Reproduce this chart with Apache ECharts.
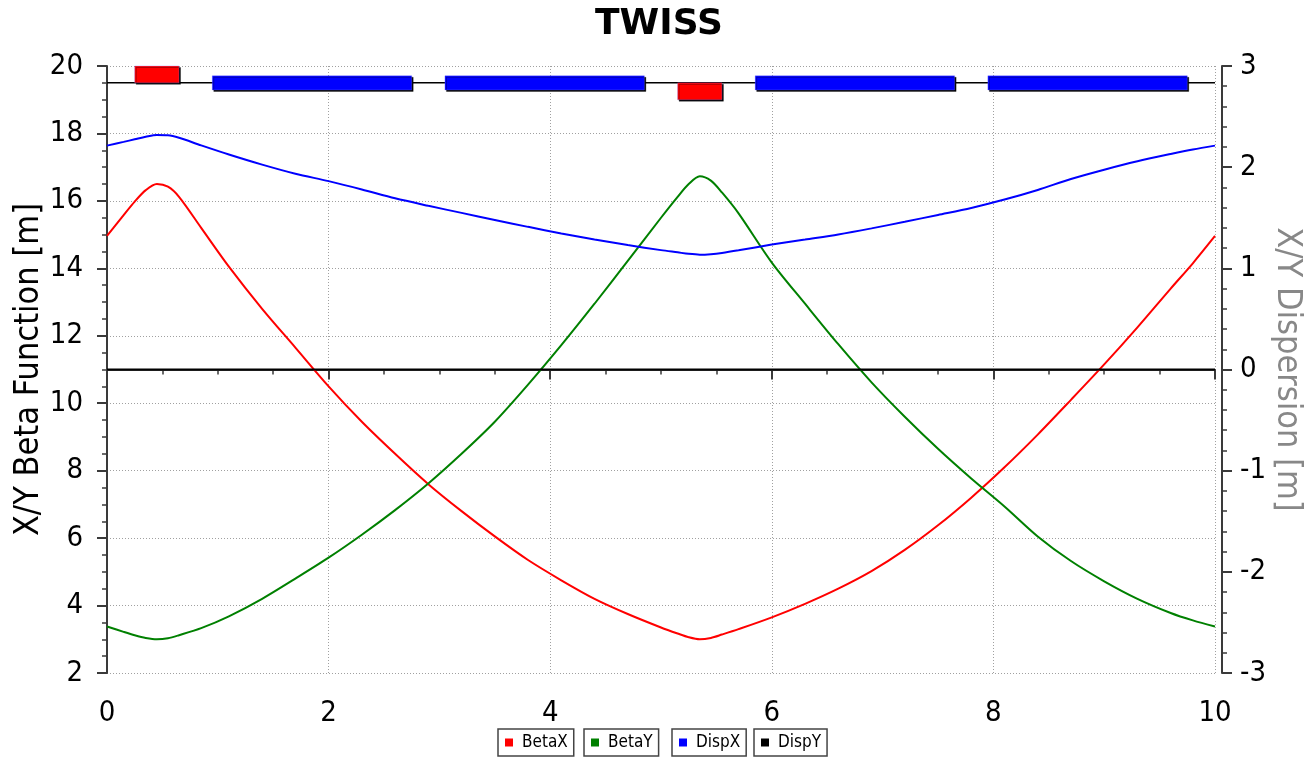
<!DOCTYPE html>
<html><head><meta charset="utf-8">
<script src="https://cdn.jsdelivr.net/npm/echarts@6/dist/echarts.min.js"></script>
<style>html,body{margin:0;padding:0;background:#fff}#c{width:1309px;height:760px}</style>
</head><body><div id="c"></div>
<script>
// ---- data ----
const sPos  = [0, 0.15, 0.25, 0.35, 0.45, 0.55, 0.65, 0.85, 1.1, 1.4, 1.7, 2.0, 2.3, 2.6, 2.9, 3.2, 3.5, 3.8, 4.1, 4.4, 4.7, 5.0, 5.15, 5.25, 5.35, 5.45, 5.55, 5.7, 6.0, 6.3, 6.6, 6.9, 7.2, 7.5, 7.8, 8.1, 8.4, 8.7, 9.0, 9.3, 9.6, 9.8, 10];
const betaX = [14.96, 15.58, 15.98, 16.32, 16.5, 16.42, 16.12, 15.2, 14.05, 12.8, 11.65, 10.5, 9.45, 8.5, 7.6, 6.8, 6.05, 5.35, 4.75, 4.2, 3.75, 3.35, 3.17, 3.06, 3.0, 3.04, 3.14, 3.3, 3.65, 4.05, 4.5, 5.02, 5.65, 6.38, 7.2, 8.1, 9.07, 10.1, 11.15, 12.25, 13.4, 14.15, 14.96];
const betaY = [3.38, 3.22, 3.12, 3.04, 3.0, 3.03, 3.12, 3.33, 3.68, 4.2, 4.8, 5.42, 6.1, 6.83, 7.62, 8.5, 9.45, 10.55, 11.72, 12.95, 14.22, 15.5, 16.12, 16.5, 16.73, 16.6, 16.25, 15.63, 14.17, 12.95, 11.75, 10.62, 9.6, 8.65, 7.77, 6.94, 6.05, 5.32, 4.72, 4.2, 3.78, 3.56, 3.38];
const dispX = [2.213, 2.25, 2.275, 2.3, 2.318, 2.315, 2.29, 2.215, 2.125, 2.025, 1.935, 1.862, 1.78, 1.692, 1.618, 1.548, 1.478, 1.41, 1.345, 1.285, 1.23, 1.18, 1.158, 1.143, 1.135, 1.14, 1.152, 1.178, 1.235, 1.285, 1.335, 1.395, 1.46, 1.528, 1.597, 1.68, 1.775, 1.883, 1.975, 2.058, 2.13, 2.175, 2.213];
const dispY = [0, 0, 0, 0, 0, 0, 0, 0, 0, 0, 0, 0, 0, 0, 0, 0, 0, 0, 0, 0, 0, 0, 0, 0, 0, 0, 0, 0, 0, 0, 0, 0, 0, 0, 0, 0, 0, 0, 0, 0, 0, 0, 0];
// lattice elements (start, end in m, type)
const elemStart = [0.25, 0.95, 3.05, 5.15, 5.85, 7.95];
const elemEnd   = [0.65, 2.75, 4.85, 5.55, 7.65, 9.75];
const elemType  = ['QF', 'B', 'B', 'QD', 'B', 'B'];
const elemLineLevel = 19.5;
const seriesNames = ['BetaX', 'BetaY', 'DispX', 'DispY'];

// ---- styles ----
const FONT = "'DejaVu Sans Condensed','DejaVu Sans',sans-serif";
const colors = {BetaX: '#ff0000', BetaY: '#008000', DispX: '#0000ff', DispY: '#000000'};
const elemStyle = {
  QF: {lo: 0, hi: 0.5, color: '#ff0000'},
  QD: {lo: -0.5, hi: 0, color: '#ff0000'},
  B:  {lo: -0.21, hi: 0.21, color: '#0000ff'}
};
const axisColor = '#3a3a3a';
const splitStyle = {show: true, lineStyle: {color: '#a0a0a0', type: [1, 2], width: 1}};

const pairs = arr => sPos.map((s, i) => [s, arr[i]]);
const elemData = elemStart.map((s, i) => [s, elemEnd[i], elemType[i]]);

const chart = echarts.init(document.getElementById('c'), null, {renderer: 'canvas'});

const legendLefts = [498, 584, 672, 754];
const legends = seriesNames.map((n, i) => ({
  data: [n], left: legendLefts[i], top: 729, orient: 'horizontal',
  icon: 'rect', itemWidth: 8, itemHeight: 8, itemGap: 0,
  padding: [5, 6, 5, 7], borderColor: '#444', borderWidth: 1.5,
  textStyle: {fontFamily: FONT, fontSize: 17, color: '#000', padding: [0, 0, 0, 4]},
  selectedMode: false
}));

const lineSeries = (name, arr, axis, smooth) => ({
  name: name, type: 'line', yAxisIndex: axis, data: pairs(arr), smooth: smooth, showSymbol: false,
  lineStyle: {color: colors[name], width: 2}, itemStyle: {color: colors[name]}, z: 3
});

const option = {
  backgroundColor: '#fff',
  animation: false,
  title: {text: 'TWISS', left: 590, top: 2,
    textStyle: {fontFamily: "'DejaVu Sans',sans-serif", fontSize: 36, fontWeight: 'bold', color: '#000'}},
  legend: legends,
  grid: {left: 107, right: 94, top: 66, bottom: 87, containLabel: false, outerBoundsMode: 'none'},
  xAxis: {
    type: 'value', min: 0, max: 10, interval: 2, offset: 7,
    axisLine: {show: true, lineStyle: {color: axisColor, width: 2}},
    axisTick: {show: true, length: 10, lineStyle: {color: axisColor, width: 2}},
    minorTick: {show: true, splitNumber: 4, length: 5, lineStyle: {color: axisColor, width: 1.5}},
    axisLabel: {fontFamily: FONT, fontSize: 29, color: '#000', margin: 19},
    splitLine: splitStyle
  },
  yAxis: [{
    type: 'value', min: 2, max: 20, interval: 2, offset: 7, position: 'left',
    name: 'X/Y Beta Function [m]', nameLocation: 'middle', nameGap: 71, nameMoveOverlap: false,
    nameTextStyle: {fontFamily: FONT, fontSize: 34, color: '#000', verticalAlign: 'middle'},
    axisLine: {show: true, lineStyle: {color: axisColor, width: 2}},
    axisTick: {show: true, length: 10, lineStyle: {color: axisColor, width: 2}},
    minorTick: {show: true, splitNumber: 4, length: 5, lineStyle: {color: axisColor, width: 1.5}},
    axisLabel: {fontFamily: FONT, fontSize: 29, color: '#000', margin: 17},
    splitLine: splitStyle
  }, {
    type: 'value', min: -3, max: 3, interval: 1, offset: 7, position: 'right',
    name: 'X/Y Dispersion [m]', nameLocation: 'middle', nameGap: 65, nameRotate: -90, nameMoveOverlap: false,
    nameTextStyle: {fontFamily: FONT, fontSize: 34, color: '#888', verticalAlign: 'middle'},
    axisLine: {show: true, lineStyle: {color: axisColor, width: 2}},
    axisTick: {show: true, length: 10, lineStyle: {color: axisColor, width: 2}},
    minorTick: {show: true, splitNumber: 5, length: 5, lineStyle: {color: axisColor, width: 1.5}},
    axisLabel: {fontFamily: FONT, fontSize: 29, color: '#000', margin: 18},
    splitLine: {show: false}
  }],
  series: [
    lineSeries('BetaX', betaX, 0, 0.3),
    lineSeries('BetaY', betaY, 0, 0.3),
    lineSeries('DispX', dispX, 1, 0.3),
    lineSeries('DispY', dispY, 1, false),
    {name: 'lattice-line', type: 'line', yAxisIndex: 0, data: [[0, elemLineLevel], [10, elemLineLevel]],
      showSymbol: false, silent: true, lineStyle: {color: '#000', width: 1.5}, z: 4},
    {name: 'lattice', type: 'custom', yAxisIndex: 0, data: elemData, z: 5, silent: true,
      renderItem: function (params, api) {
        const t = elemType[params.dataIndex];
        const st = elemStyle[t];
        const p0 = api.coord([api.value(0), elemLineLevel + st.hi]);
        const p1 = api.coord([api.value(1), elemLineLevel + st.lo]);
        return {
          type: 'rect',
          shape: {x: p0[0], y: p0[1], width: p1[0] - p0[0], height: p1[1] - p0[1]},
          style: {fill: st.color, stroke: 'rgba(120,120,255,0.6)', lineWidth: 0.5,
            shadowColor: '#000', shadowBlur: 0, shadowOffsetX: 1.5, shadowOffsetY: 1.5}
        };
      }}
  ]
};
chart.setOption(option);
</script></body></html>
